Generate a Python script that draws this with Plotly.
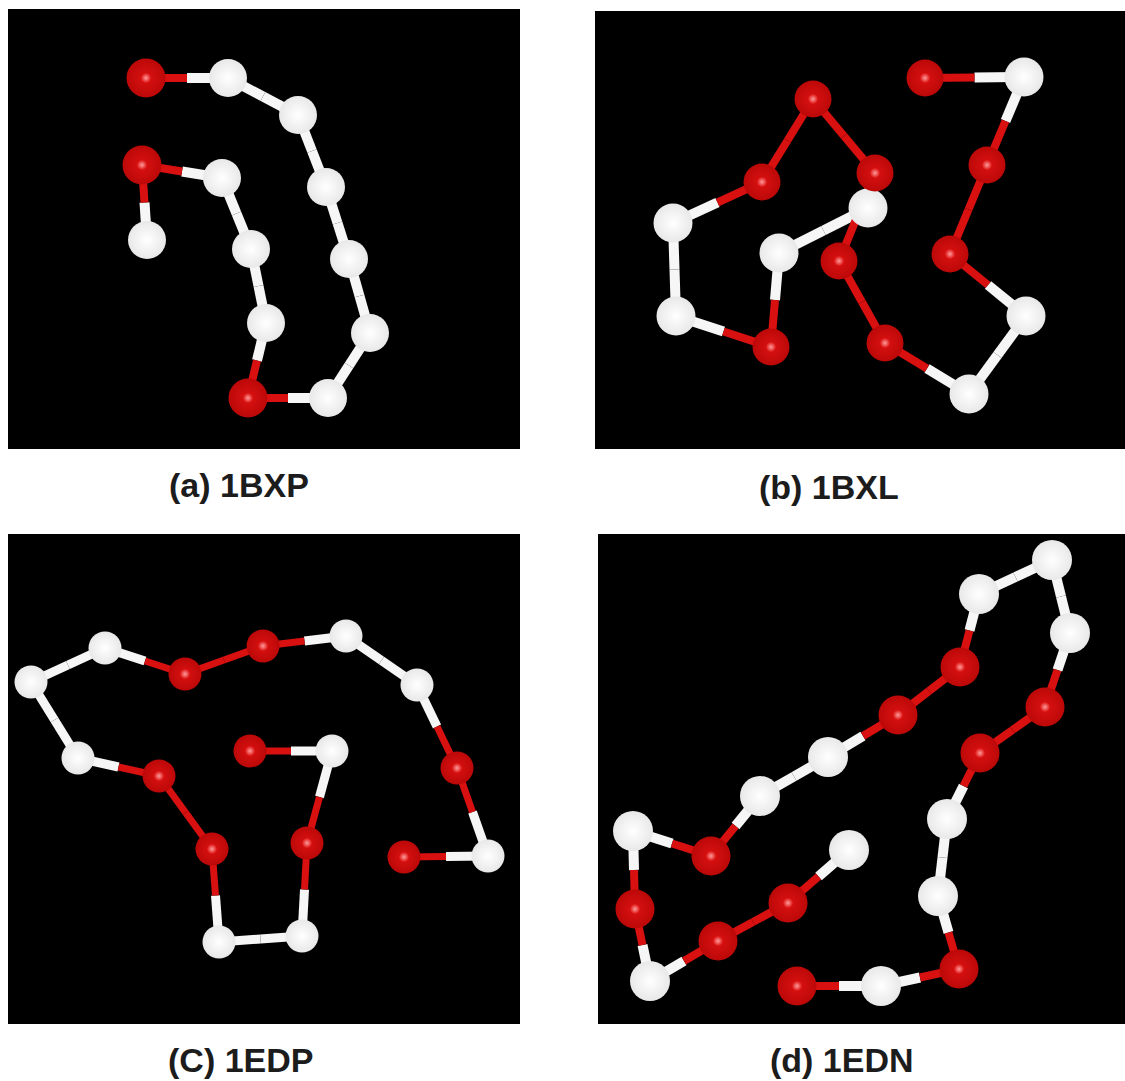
import plotly.graph_objects as go

W, H = 1125, 1081
PANEL_NAMES = ["(a) 1BXP", "(b) 1BXL", "(C) 1EDP", "(d) 1EDN"]

a_x = [146, 228, 298, 326, 349, 370, 328, 248, 266, 251, 222, 142, 147]
a_y = [78, 78, 115, 187, 259, 333, 398, 398, 323, 249, 178, 165, 240]
a_kind = list("RWWWWWWRWWWRW")

b_x = [925, 1024, 987, 950, 1026, 969, 885, 839, 875, 813, 762, 673, 676, 771, 779, 868]
b_y = [78, 77, 165, 254, 316, 394, 343, 261, 173, 99, 182, 223, 316, 347, 253, 208]
b_kind = list("RWRRWWRRRRRWWRWW")

c_x = [404, 488, 457, 417, 346, 263, 185, 105, 31, 78, 159, 212, 219, 302, 307, 332, 250]
c_y = [857, 856, 768, 685, 636, 646, 674, 648, 682, 758, 776, 849, 942, 936, 843, 751, 751]
c_kind = list("RWRWWRRWWWRRWWRWR")

d_x = [797, 881, 959, 938, 947, 980, 1045, 1070, 1052, 979, 960, 898, 828, 760, 711, 633, 635, 650, 718, 788, 849]
d_y = [986, 986, 969, 896, 819, 753, 707, 633, 560, 594, 667, 715, 757, 796, 856, 831, 909, 981, 941, 903, 850]
d_kind = list("RWRWWRRWWWRRWWRWRWRRW")

PANELS = [
    dict(x=a_x, y=a_y, k=a_kind, box=(8, 520, 9, 449), rsize=39, wsize=38, rbond=8, wbond=10, cap=(239, 485)),
    dict(x=b_x, y=b_y, k=b_kind, box=(595, 1125, 11, 449), rsize=37, wsize=39, rbond=8, wbond=10, cap=(829, 487)),
    dict(x=c_x, y=c_y, k=c_kind, box=(8, 520, 534, 1024), rsize=33, wsize=33, rbond=7, wbond=9, cap=(240, 1060)),
    dict(x=d_x, y=d_y, k=d_kind, box=(598, 1125, 534, 1024), rsize=39, wsize=40, rbond=8, wbond=10, cap=(842, 1060)),
]
# marker.color is the rim of a radial gradient, gradient.color its centre
RED_RIM, RED_CENTRE = "#bc0808", "#dc1212"
WHITE_RIM, WHITE_CENTRE = "#e8e8e8", "#ffffff"

fig = go.Figure()
layout = {}
annotations = []
for i, (p, name) in enumerate(zip(PANELS, PANEL_NAMES)):
    s = "" if i == 0 else str(i + 1)
    x0, x1, y0, y1 = p["box"]
    layout["xaxis" + s] = dict(domain=[x0 / W, x1 / W], range=[x0, x1], visible=False, fixedrange=True)
    layout["yaxis" + s] = dict(domain=[1 - y1 / H, 1 - y0 / H], range=[y1, y0], visible=False, fixedrange=True)
    xa, ya = "x" + s, "y" + s
    seg = {"R": ([], []), "W": ([], [])}
    for j in range(len(p["x"]) - 1):
        xs, ys, k0 = p["x"][j], p["y"][j], p["k"][j]
        xe, ye, k1 = p["x"][j + 1], p["y"][j + 1], p["k"][j + 1]
        mx, my = (xs + xe) / 2, (ys + ye) / 2
        seg[k0][0].extend([xs, mx, None]); seg[k0][1].extend([ys, my, None])
        seg[k1][0].extend([mx, xe, None]); seg[k1][1].extend([my, ye, None])
    for k, col, width in (("W", "#f6f6f6", p["wbond"]), ("R", "#d81010", p["rbond"])):
        fig.add_trace(go.Scatter(x=seg[k][0], y=seg[k][1], xaxis=xa, yaxis=ya, mode="lines",
                                 line=dict(color=col, width=width), hoverinfo="skip"))
    for k, rim, centre, size in (("W", WHITE_RIM, WHITE_CENTRE, p["wsize"]), ("R", RED_RIM, RED_CENTRE, p["rsize"])):
        idx = [n for n, v in enumerate(p["k"]) if v == k]
        fig.add_trace(go.Scatter(x=[p["x"][n] for n in idx], y=[p["y"][n] for n in idx],
                                 xaxis=xa, yaxis=ya, mode="markers",
                                 marker=dict(size=size, color=rim, line=dict(width=0),
                                             gradient=dict(type="radial", color=centre))))
        if k == "R":
            # small specular highlight on the red spheres
            fig.add_trace(go.Scatter(x=[p["x"][n] for n in idx], y=[p["y"][n] for n in idx],
                                     xaxis=xa, yaxis=ya, mode="markers", hoverinfo="skip",
                                     marker=dict(size=10, color="#dc1212", line=dict(width=0),
                                                 gradient=dict(type="radial", color="#ff9c9c"))))
    annotations.append(dict(text=f"<b>{name}</b>", x=p["cap"][0] / W, y=1 - p["cap"][1] / H,
                            xref="paper", yref="paper", showarrow=False, xanchor="center", yanchor="middle",
                            font=dict(family="Liberation Sans", size=34, color="#1c1c1c")))

fig.update_layout(width=W, height=H, margin=dict(l=0, r=0, t=0, b=0), showlegend=False,
                  paper_bgcolor="white", plot_bgcolor="black", annotations=annotations, **layout)
fig.write_html("out.html", config=dict(displayModeBar=False),
               post_script="document.body.style.margin='0';document.documentElement.style.overflow='hidden';")
